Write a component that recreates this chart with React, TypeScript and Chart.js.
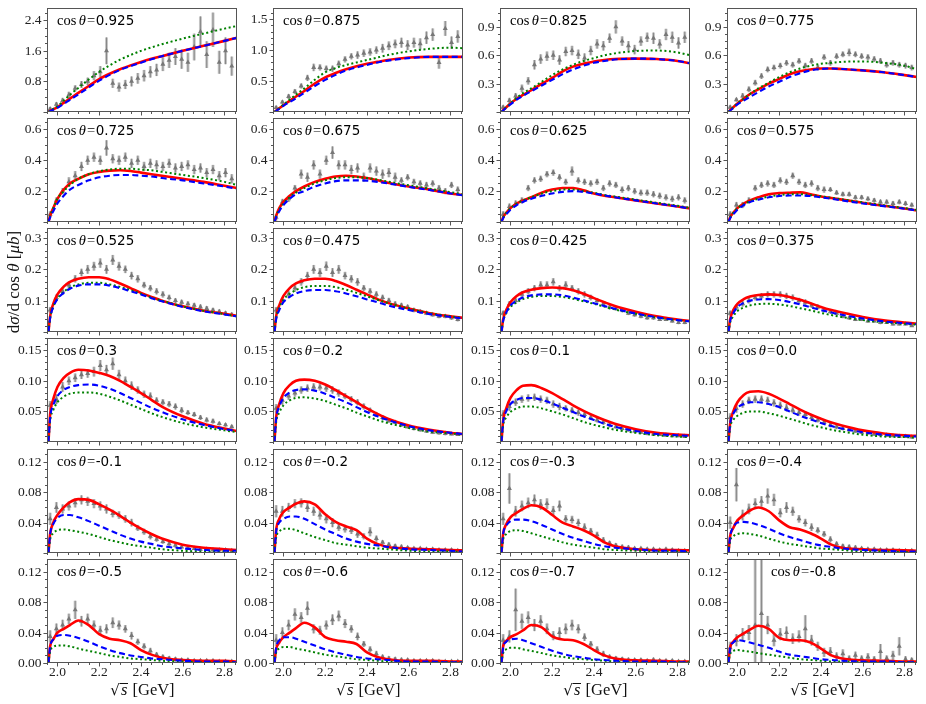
import React, { useEffect, useRef } from "react";
import { Chart, registerables } from "chart.js";

Chart.register(...registerables);

// ---------------- data ----------------
const X_MIN = 1.95;
const X_MAX = 2.86;
const X_TICKS = [2.0, 2.2, 2.4, 2.6, 2.8];
const X_TICK_LABELS = ["2.0", "2.2", "2.4", "2.6", "2.8"];

const X_DATA = [1.965, 1.995, 2.025, 2.055, 2.085, 2.115, 2.145, 2.175, 2.205, 2.235, 2.265, 2.295, 2.325, 2.355, 2.385, 2.415, 2.445, 2.475, 2.505, 2.535, 2.565, 2.595, 2.625, 2.655, 2.685, 2.715, 2.745, 2.775, 2.805, 2.835];
const X_MODEL = [1.957, 1.965, 1.98, 2.0, 2.03, 2.06, 2.1, 2.15, 2.2, 2.25, 2.3, 2.35, 2.4, 2.45, 2.5, 2.6, 2.7, 2.8, 2.86];

const COS_LABELS = ["0.925", "0.875", "0.825", "0.775", "0.725", "0.675", "0.625", "0.575", "0.525", "0.475", "0.425", "0.375", "0.3", "0.2", "0.1", "0.0", "-0.1", "-0.2", "-0.3", "-0.4", "-0.5", "-0.6", "-0.7", "-0.8"];

const Y_MAX = [2.72, 1.68, 1.1, 1.1, 0.674, 0.674, 0.674, 0.674, 0.332, 0.332, 0.332, 0.332, 0.17, 0.17, 0.17, 0.17, 0.137, 0.137, 0.137, 0.137, 0.137, 0.137, 0.137, 0.137];

const YT_A = [0.8, 1.6, 2.4];
const YL_A = ["0.8", "1.6", "2.4"];
const YT_B = [0.5, 1.0, 1.5];
const YL_B = ["0.5", "1.0", "1.5"];
const YT_C = [0.3, 0.6, 0.9];
const YL_C = ["0.3", "0.6", "0.9"];
const YT_D = [0.2, 0.4, 0.6];
const YL_D = ["0.2", "0.4", "0.6"];
const YT_E = [0.1, 0.2, 0.3];
const YL_E = ["0.1", "0.2", "0.3"];
const YT_F = [0.05, 0.1, 0.15];
const YL_F = ["0.05", "0.10", "0.15"];
const YT_G = [0.04, 0.08, 0.12];
const YL_G = ["0.04", "0.08", "0.12"];
const YT_H = [0, 0.04, 0.08, 0.12];
const YL_H = ["0.00", "0.04", "0.08", "0.12"];
const Y_MINOR = [0.2, 0.1, 0.075, 0.075, 0.05, 0.05, 0.05, 0.05, 0.02, 0.02, 0.02, 0.02, 0.01, 0.01, 0.01, 0.01, 0.01, 0.01, 0.01, 0.01, 0.01, 0.01, 0.01, 0.01];

// cos = 0.925
const D_0925 = [0.08, 0.2, 0.3, 0.45, 0.62, 0.72, 0.8, 0.95, 1.05, 1.6, 0.75, 0.65, 0.72, 0.8, 0.88, 0.95, 1.05, 1.1, 1.25, 1.35, 1.45, 1.38, 1.3, 1.7, 2.1, 1.5, 2.15, 1.3, 1.6, 1.2];
const E_0925 = [0.05, 0.06, 0.07, 0.08, 0.08, 0.09, 0.1, 0.12, 0.15, 0.35, 0.12, 0.12, 0.12, 0.13, 0.14, 0.15, 0.15, 0.16, 0.18, 0.2, 0.22, 0.25, 0.25, 0.35, 0.4, 0.35, 0.45, 0.3, 0.35, 0.25];
const R_0925 = [0, 0.03, 0.07, 0.13, 0.24, 0.35, 0.5, 0.68, 0.86, 1.0, 1.12, 1.22, 1.31, 1.39, 1.46, 1.6, 1.73, 1.86, 1.94];
const B_0925 = [0, 0.02, 0.06, 0.11, 0.21, 0.32, 0.46, 0.64, 0.82, 0.97, 1.1, 1.2, 1.29, 1.38, 1.46, 1.6, 1.73, 1.86, 1.94];
const G_0925 = [0, 0.03, 0.08, 0.15, 0.3, 0.45, 0.63, 0.85, 1.05, 1.22, 1.37, 1.49, 1.6, 1.69, 1.77, 1.92, 2.05, 2.18, 2.25];

// cos = 0.875
const D_0875 = [0.07, 0.16, 0.25, 0.33, 0.42, 0.55, 0.72, 0.72, 0.7, 0.7, 0.78, 0.85, 0.9, 0.92, 0.95, 0.97, 1.0, 1.03, 1.07, 1.1, 1.12, 1.08, 1.12, 1.1, 1.2, 1.25, 0.8, 1.35, 1.12, 1.22];
const E_0875 = [0.03, 0.03, 0.04, 0.04, 0.04, 0.05, 0.06, 0.05, 0.05, 0.05, 0.05, 0.05, 0.05, 0.06, 0.06, 0.06, 0.06, 0.07, 0.07, 0.07, 0.08, 0.08, 0.08, 0.09, 0.1, 0.1, 0.1, 0.12, 0.1, 0.1];
const R_0875 = [0, 0.02, 0.06, 0.11, 0.18, 0.25, 0.34, 0.46, 0.56, 0.63, 0.69, 0.74, 0.78, 0.81, 0.84, 0.88, 0.89, 0.89, 0.89];
const B_0875 = [0, 0.015, 0.05, 0.1, 0.16, 0.22, 0.31, 0.42, 0.52, 0.6, 0.67, 0.72, 0.76, 0.8, 0.83, 0.87, 0.89, 0.89, 0.89];
const G_0875 = [0, 0.02, 0.06, 0.12, 0.2, 0.28, 0.38, 0.52, 0.64, 0.71, 0.76, 0.8, 0.84, 0.88, 0.92, 0.98, 1.02, 1.04, 1.03];

// cos = 0.825
const D_0825 = [0.05, 0.12, 0.17, 0.25, 0.33, 0.5, 0.56, 0.59, 0.6, 0.55, 0.64, 0.65, 0.61, 0.57, 0.65, 0.72, 0.7, 0.78, 0.9, 0.75, 0.7, 0.66, 0.75, 0.79, 0.78, 0.72, 0.82, 0.79, 0.73, 0.79];
const E_0825 = [0.02, 0.03, 0.03, 0.04, 0.04, 0.05, 0.05, 0.05, 0.05, 0.05, 0.05, 0.05, 0.05, 0.05, 0.05, 0.05, 0.05, 0.05, 0.07, 0.05, 0.05, 0.05, 0.05, 0.05, 0.06, 0.05, 0.06, 0.06, 0.06, 0.06];
const R_0825 = [0, 0.02, 0.05, 0.09, 0.14, 0.18, 0.23, 0.3, 0.36, 0.43, 0.48, 0.51, 0.535, 0.55, 0.56, 0.565, 0.56, 0.54, 0.515];
const B_0825 = [0, 0.015, 0.045, 0.08, 0.13, 0.17, 0.22, 0.28, 0.34, 0.4, 0.45, 0.49, 0.52, 0.54, 0.555, 0.565, 0.56, 0.54, 0.515];
const G_0825 = [0, 0.02, 0.05, 0.09, 0.15, 0.2, 0.25, 0.32, 0.39, 0.45, 0.5, 0.54, 0.57, 0.6, 0.62, 0.645, 0.65, 0.63, 0.6];

// cos = 0.775
const D_0775 = [0.05, 0.13, 0.17, 0.24, 0.31, 0.38, 0.45, 0.47, 0.49, 0.52, 0.5, 0.54, 0.49, 0.54, 0.47, 0.58, 0.52, 0.59, 0.61, 0.63, 0.61, 0.59, 0.58, 0.56, 0.54, 0.5, 0.52, 0.5, 0.49, 0.47];
const E_0775 = [0.02, 0.02, 0.03, 0.03, 0.03, 0.03, 0.03, 0.03, 0.03, 0.03, 0.03, 0.03, 0.03, 0.03, 0.03, 0.03, 0.03, 0.03, 0.03, 0.04, 0.03, 0.03, 0.03, 0.03, 0.03, 0.03, 0.03, 0.03, 0.03, 0.03];
const R_0775 = [0, 0.02, 0.05, 0.09, 0.14, 0.19, 0.24, 0.3, 0.35, 0.4, 0.43, 0.45, 0.46, 0.46, 0.455, 0.44, 0.42, 0.39, 0.37];
const B_0775 = [0, 0.015, 0.04, 0.08, 0.12, 0.16, 0.21, 0.27, 0.32, 0.37, 0.41, 0.44, 0.455, 0.46, 0.455, 0.44, 0.42, 0.39, 0.37];
const G_0775 = [0, 0.02, 0.05, 0.09, 0.14, 0.19, 0.25, 0.31, 0.37, 0.42, 0.46, 0.49, 0.51, 0.52, 0.53, 0.535, 0.52, 0.49, 0.45];

// cos = 0.725
const D_0725 = [0.05, 0.14, 0.2, 0.26, 0.3, 0.36, 0.4, 0.42, 0.4, 0.48, 0.41, 0.4, 0.42, 0.38, 0.4, 0.36, 0.38, 0.37, 0.36, 0.38, 0.35, 0.36, 0.37, 0.34, 0.35, 0.32, 0.34, 0.3, 0.32, 0.28];
const E_0725 = [0.02, 0.02, 0.02, 0.03, 0.03, 0.03, 0.03, 0.03, 0.03, 0.05, 0.03, 0.03, 0.03, 0.03, 0.03, 0.03, 0.03, 0.03, 0.03, 0.03, 0.03, 0.03, 0.03, 0.03, 0.03, 0.03, 0.03, 0.03, 0.03, 0.03];
const R_0725 = [0, 0.04, 0.09, 0.15, 0.21, 0.25, 0.28, 0.31, 0.325, 0.333, 0.335, 0.33, 0.32, 0.31, 0.3, 0.28, 0.26, 0.235, 0.22];
const B_0725 = [0, 0.03, 0.07, 0.12, 0.17, 0.21, 0.24, 0.27, 0.29, 0.3, 0.305, 0.305, 0.3, 0.295, 0.285, 0.27, 0.25, 0.23, 0.215];
const G_0725 = [0, 0.04, 0.09, 0.15, 0.2, 0.24, 0.28, 0.31, 0.33, 0.34, 0.345, 0.345, 0.34, 0.335, 0.325, 0.305, 0.285, 0.26, 0.24];

// cos = 0.675
const D_0675 = [0.03, 0.13, 0.15, 0.22, 0.31, 0.29, 0.37, 0.31, 0.4, 0.45, 0.37, 0.37, 0.34, 0.35, 0.29, 0.35, 0.33, 0.31, 0.32, 0.29, 0.27, 0.29, 0.26, 0.25, 0.24, 0.25, 0.22, 0.2, 0.24, 0.21];
const E_0675 = [0.02, 0.02, 0.02, 0.02, 0.03, 0.03, 0.03, 0.03, 0.03, 0.04, 0.03, 0.03, 0.03, 0.03, 0.03, 0.03, 0.03, 0.03, 0.03, 0.03, 0.02, 0.02, 0.02, 0.02, 0.02, 0.02, 0.02, 0.02, 0.02, 0.02];
const R_0675 = [0, 0.04, 0.09, 0.13, 0.17, 0.2, 0.23, 0.26, 0.28, 0.295, 0.3, 0.295, 0.285, 0.27, 0.255, 0.23, 0.21, 0.185, 0.175];
const B_0675 = [0, 0.03, 0.07, 0.11, 0.15, 0.18, 0.2, 0.23, 0.25, 0.265, 0.27, 0.27, 0.268, 0.26, 0.25, 0.228, 0.207, 0.185, 0.173];
const G_0675 = [0, 0.04, 0.08, 0.12, 0.16, 0.19, 0.22, 0.25, 0.27, 0.285, 0.29, 0.29, 0.285, 0.275, 0.262, 0.238, 0.216, 0.193, 0.18];

// cos = 0.625
const D_0625 = [0.05, 0.1, 0.12, 0.14, 0.22, 0.27, 0.28, 0.31, 0.32, 0.29, 0.26, 0.33, 0.27, 0.26, 0.25, 0.26, 0.22, 0.25, 0.24, 0.21, 0.22, 0.2, 0.19, 0.19, 0.18, 0.17, 0.16, 0.15, 0.16, 0.14];
const E_0625 = [0.02, 0.02, 0.02, 0.02, 0.02, 0.02, 0.02, 0.02, 0.02, 0.02, 0.02, 0.03, 0.02, 0.02, 0.02, 0.02, 0.02, 0.02, 0.02, 0.02, 0.02, 0.02, 0.02, 0.02, 0.02, 0.02, 0.02, 0.02, 0.02, 0.02];
const R_0625 = [0, 0.03, 0.06, 0.09, 0.12, 0.14, 0.16, 0.19, 0.21, 0.22, 0.22, 0.205, 0.185, 0.17, 0.16, 0.14, 0.12, 0.1, 0.088];
const B_0625 = [0, 0.025, 0.05, 0.08, 0.11, 0.13, 0.15, 0.17, 0.185, 0.195, 0.2, 0.195, 0.185, 0.172, 0.16, 0.14, 0.12, 0.1, 0.088];
const G_0625 = [0, 0.03, 0.06, 0.09, 0.12, 0.14, 0.16, 0.185, 0.2, 0.21, 0.21, 0.2, 0.19, 0.175, 0.165, 0.145, 0.125, 0.105, 0.092];

// cos = 0.575
const D_0575 = [0.05, 0.11, 0.11, 0.14, 0.22, 0.24, 0.25, 0.24, 0.27, 0.26, 0.3, 0.26, 0.24, 0.25, 0.22, 0.21, 0.21, 0.19, 0.18, 0.18, 0.16, 0.16, 0.15, 0.14, 0.13, 0.13, 0.12, 0.13, 0.12, 0.11];
const E_0575 = [0.02, 0.02, 0.02, 0.02, 0.02, 0.02, 0.02, 0.02, 0.02, 0.02, 0.02, 0.02, 0.02, 0.02, 0.02, 0.02, 0.015, 0.015, 0.015, 0.015, 0.015, 0.015, 0.015, 0.015, 0.015, 0.015, 0.015, 0.015, 0.015, 0.015];
const R_0575 = [0, 0.03, 0.06, 0.09, 0.12, 0.14, 0.16, 0.18, 0.187, 0.19, 0.192, 0.18, 0.165, 0.155, 0.145, 0.125, 0.105, 0.088, 0.075];
const B_0575 = [0, 0.025, 0.05, 0.08, 0.11, 0.13, 0.145, 0.16, 0.168, 0.172, 0.172, 0.168, 0.16, 0.15, 0.14, 0.12, 0.103, 0.086, 0.075];
const G_0575 = [0, 0.03, 0.06, 0.09, 0.115, 0.135, 0.15, 0.165, 0.175, 0.18, 0.18, 0.175, 0.167, 0.157, 0.147, 0.127, 0.108, 0.09, 0.078];

// cos = 0.525
const D_0525 = [0.07, 0.11, 0.13, 0.15, 0.17, 0.19, 0.2, 0.21, 0.22, 0.2, 0.23, 0.21, 0.2, 0.18, 0.17, 0.15, 0.14, 0.13, 0.12, 0.11, 0.1, 0.095, 0.09, 0.085, 0.08, 0.075, 0.07, 0.065, 0.06, 0.055];
const E_0525 = [0.01, 0.01, 0.012, 0.012, 0.012, 0.012, 0.014, 0.014, 0.015, 0.014, 0.016, 0.014, 0.012, 0.012, 0.012, 0.01, 0.01, 0.01, 0.01, 0.009, 0.008, 0.008, 0.008, 0.008, 0.008, 0.008, 0.007, 0.007, 0.007, 0.007];
const R_0525 = [0, 0.05, 0.09, 0.12, 0.145, 0.16, 0.17, 0.175, 0.175, 0.168, 0.155, 0.14, 0.125, 0.112, 0.1, 0.082, 0.068, 0.058, 0.052];
const B_0525 = [0, 0.045, 0.08, 0.105, 0.125, 0.138, 0.148, 0.152, 0.152, 0.148, 0.14, 0.13, 0.12, 0.108, 0.098, 0.08, 0.066, 0.056, 0.05];
const G_0525 = [0, 0.045, 0.08, 0.107, 0.128, 0.142, 0.152, 0.157, 0.157, 0.152, 0.144, 0.134, 0.122, 0.11, 0.1, 0.082, 0.068, 0.057, 0.05];

// cos = 0.475
const D_0475 = [0.07, 0.1, 0.12, 0.14, 0.16, 0.18, 0.2, 0.19, 0.21, 0.19, 0.2, 0.18, 0.17, 0.16, 0.14, 0.13, 0.12, 0.11, 0.1, 0.09, 0.085, 0.08, 0.07, 0.065, 0.06, 0.055, 0.05, 0.05, 0.045, 0.04];
const E_0475 = [0.01, 0.01, 0.012, 0.012, 0.012, 0.012, 0.014, 0.014, 0.015, 0.014, 0.014, 0.012, 0.012, 0.012, 0.01, 0.01, 0.01, 0.009, 0.009, 0.008, 0.008, 0.007, 0.007, 0.007, 0.006, 0.006, 0.006, 0.006, 0.006, 0.006];
const R_0475 = [0, 0.05, 0.085, 0.115, 0.14, 0.155, 0.165, 0.17, 0.17, 0.163, 0.15, 0.135, 0.12, 0.105, 0.093, 0.075, 0.06, 0.05, 0.045];
const B_0475 = [0, 0.04, 0.07, 0.095, 0.112, 0.123, 0.131, 0.134, 0.134, 0.13, 0.123, 0.114, 0.104, 0.095, 0.085, 0.07, 0.057, 0.048, 0.043];
const G_0475 = [0, 0.045, 0.078, 0.103, 0.122, 0.134, 0.143, 0.147, 0.147, 0.143, 0.135, 0.125, 0.114, 0.103, 0.092, 0.075, 0.06, 0.05, 0.045];

// cos = 0.425
const D_0425 = [0.06, 0.09, 0.1, 0.12, 0.13, 0.14, 0.15, 0.15, 0.16, 0.14, 0.15, 0.14, 0.13, 0.12, 0.11, 0.1, 0.09, 0.08, 0.075, 0.07, 0.06, 0.055, 0.05, 0.045, 0.045, 0.04, 0.04, 0.035, 0.03, 0.03];
const E_0425 = [0.008, 0.009, 0.01, 0.01, 0.01, 0.01, 0.012, 0.012, 0.012, 0.01, 0.012, 0.01, 0.01, 0.01, 0.009, 0.008, 0.008, 0.008, 0.007, 0.007, 0.006, 0.006, 0.006, 0.006, 0.006, 0.005, 0.005, 0.005, 0.005, 0.005];
const R_0425 = [0, 0.04, 0.07, 0.095, 0.115, 0.127, 0.135, 0.14, 0.142, 0.14, 0.133, 0.122, 0.108, 0.095, 0.083, 0.065, 0.05, 0.04, 0.035];
const B_0425 = [0, 0.035, 0.062, 0.085, 0.1, 0.11, 0.117, 0.12, 0.12, 0.117, 0.11, 0.101, 0.092, 0.083, 0.074, 0.059, 0.047, 0.038, 0.034];
const G_0425 = [0, 0.035, 0.06, 0.08, 0.095, 0.105, 0.112, 0.115, 0.115, 0.112, 0.106, 0.098, 0.09, 0.081, 0.072, 0.058, 0.046, 0.038, 0.034];

// cos = 0.375
const D_0375 = [0.06, 0.08, 0.09, 0.1, 0.11, 0.115, 0.12, 0.12, 0.12, 0.115, 0.11, 0.1, 0.095, 0.085, 0.08, 0.07, 0.065, 0.06, 0.05, 0.045, 0.04, 0.04, 0.035, 0.035, 0.03, 0.03, 0.025, 0.025, 0.025, 0.02];
const E_0375 = [0.008, 0.008, 0.009, 0.009, 0.009, 0.009, 0.01, 0.01, 0.01, 0.01, 0.01, 0.009, 0.009, 0.008, 0.008, 0.007, 0.007, 0.006, 0.006, 0.006, 0.005, 0.005, 0.005, 0.005, 0.005, 0.004, 0.004, 0.004, 0.004, 0.004];
const R_0375 = [0, 0.04, 0.07, 0.09, 0.105, 0.113, 0.118, 0.12, 0.118, 0.112, 0.103, 0.092, 0.08, 0.07, 0.062, 0.048, 0.037, 0.03, 0.027];
const B_0375 = [0, 0.035, 0.06, 0.08, 0.093, 0.1, 0.104, 0.105, 0.102, 0.096, 0.088, 0.079, 0.07, 0.062, 0.055, 0.043, 0.034, 0.028, 0.025];
const G_0375 = [0, 0.03, 0.05, 0.067, 0.078, 0.085, 0.089, 0.09, 0.088, 0.083, 0.076, 0.069, 0.061, 0.054, 0.048, 0.038, 0.031, 0.026, 0.023];

// cos = 0.3
const D_03 = [0.06, 0.07, 0.09, 0.1, 0.105, 0.11, 0.112, 0.115, 0.125, 0.118, 0.128, 0.11, 0.1, 0.092, 0.085, 0.078, 0.075, 0.068, 0.065, 0.062, 0.058, 0.052, 0.048, 0.045, 0.04, 0.036, 0.034, 0.03, 0.028, 0.025];
const E_03 = [0.007, 0.008, 0.008, 0.007, 0.007, 0.007, 0.007, 0.008, 0.009, 0.008, 0.01, 0.008, 0.007, 0.007, 0.006, 0.006, 0.006, 0.005, 0.005, 0.005, 0.005, 0.005, 0.004, 0.004, 0.004, 0.004, 0.004, 0.003, 0.003, 0.003];
const R_03 = [0, 0.045, 0.07, 0.09, 0.105, 0.113, 0.118, 0.117, 0.113, 0.108, 0.1, 0.09, 0.08, 0.069, 0.058, 0.042, 0.03, 0.022, 0.018];
const B_03 = [0, 0.04, 0.06, 0.075, 0.085, 0.09, 0.093, 0.094, 0.092, 0.087, 0.08, 0.072, 0.064, 0.056, 0.049, 0.037, 0.028, 0.021, 0.018];
const G_03 = [0, 0.035, 0.052, 0.065, 0.074, 0.079, 0.081, 0.081, 0.079, 0.074, 0.068, 0.061, 0.054, 0.047, 0.041, 0.031, 0.024, 0.019, 0.016];

// cos = 0.2
const D_02 = [0.055, 0.068, 0.075, 0.08, 0.085, 0.088, 0.09, 0.09, 0.088, 0.085, 0.08, 0.075, 0.07, 0.065, 0.058, 0.052, 0.045, 0.04, 0.035, 0.032, 0.028, 0.025, 0.022, 0.02, 0.018, 0.016, 0.015, 0.014, 0.013, 0.012];
const E_02 = [0.007, 0.007, 0.006, 0.006, 0.006, 0.006, 0.006, 0.006, 0.006, 0.006, 0.006, 0.005, 0.005, 0.005, 0.005, 0.004, 0.004, 0.004, 0.004, 0.003, 0.003, 0.003, 0.003, 0.003, 0.003, 0.003, 0.003, 0.003, 0.002, 0.002];
const R_02 = [0, 0.04, 0.062, 0.08, 0.093, 0.1, 0.102, 0.1, 0.094, 0.085, 0.075, 0.065, 0.055, 0.046, 0.038, 0.027, 0.02, 0.015, 0.013];
const B_02 = [0, 0.038, 0.058, 0.072, 0.081, 0.085, 0.086, 0.084, 0.079, 0.072, 0.065, 0.057, 0.049, 0.042, 0.036, 0.026, 0.019, 0.015, 0.013];
const G_02 = [0, 0.032, 0.048, 0.06, 0.068, 0.072, 0.073, 0.071, 0.067, 0.061, 0.055, 0.048, 0.042, 0.036, 0.031, 0.023, 0.017, 0.014, 0.012];

// cos = 0.1
const D_01 = [0.045, 0.058, 0.065, 0.07, 0.072, 0.073, 0.07, 0.068, 0.062, 0.058, 0.055, 0.052, 0.048, 0.045, 0.04, 0.036, 0.032, 0.028, 0.025, 0.022, 0.02, 0.018, 0.016, 0.014, 0.013, 0.012, 0.011, 0.01, 0.01, 0.009];
const E_01 = [0.007, 0.007, 0.006, 0.006, 0.006, 0.006, 0.006, 0.006, 0.006, 0.006, 0.005, 0.005, 0.005, 0.005, 0.004, 0.004, 0.004, 0.004, 0.003, 0.003, 0.003, 0.003, 0.003, 0.003, 0.003, 0.002, 0.002, 0.002, 0.002, 0.002];
const R_01 = [0, 0.035, 0.055, 0.072, 0.085, 0.092, 0.093, 0.088, 0.08, 0.07, 0.06, 0.051, 0.043, 0.036, 0.03, 0.021, 0.015, 0.012, 0.011];
const B_01 = [0, 0.033, 0.05, 0.062, 0.069, 0.072, 0.072, 0.069, 0.063, 0.056, 0.049, 0.042, 0.036, 0.03, 0.025, 0.018, 0.013, 0.011, 0.01];
const G_01 = [0, 0.028, 0.04, 0.049, 0.055, 0.058, 0.058, 0.055, 0.05, 0.045, 0.039, 0.033, 0.028, 0.024, 0.02, 0.015, 0.011, 0.009, 0.008];

// cos = 0.0
const D_00 = [0.04, 0.055, 0.062, 0.068, 0.07, 0.07, 0.068, 0.064, 0.06, 0.056, 0.052, 0.048, 0.045, 0.04, 0.036, 0.032, 0.028, 0.025, 0.022, 0.02, 0.018, 0.016, 0.015, 0.013, 0.012, 0.011, 0.01, 0.009, 0.009, 0.008];
const E_00 = [0.007, 0.007, 0.006, 0.006, 0.006, 0.006, 0.006, 0.006, 0.006, 0.006, 0.005, 0.005, 0.005, 0.005, 0.004, 0.004, 0.004, 0.004, 0.003, 0.003, 0.003, 0.003, 0.003, 0.003, 0.003, 0.002, 0.002, 0.002, 0.002, 0.002];
const R_00 = [0, 0.03, 0.05, 0.065, 0.077, 0.082, 0.083, 0.079, 0.071, 0.062, 0.053, 0.045, 0.038, 0.032, 0.027, 0.019, 0.014, 0.011, 0.01];
const B_00 = [0, 0.03, 0.046, 0.056, 0.062, 0.065, 0.065, 0.062, 0.057, 0.05, 0.043, 0.037, 0.031, 0.026, 0.022, 0.016, 0.012, 0.01, 0.009];
const G_00 = [0, 0.024, 0.036, 0.043, 0.048, 0.05, 0.05, 0.047, 0.043, 0.038, 0.033, 0.028, 0.024, 0.02, 0.017, 0.012, 0.009, 0.008, 0.007];

// cos = -0.1
const D_M01 = [0.045, 0.06, 0.058, 0.062, 0.066, 0.07, 0.068, 0.065, 0.062, 0.058, 0.052, 0.05, 0.045, 0.04, 0.033, 0.028, 0.022, 0.018, 0.015, 0.012, 0.01, 0.008, 0.007, 0.006, 0.005, 0.005, 0.004, 0.004, 0.004, 0.003];
const E_M01 = [0.008, 0.007, 0.006, 0.006, 0.006, 0.006, 0.006, 0.006, 0.006, 0.006, 0.005, 0.005, 0.005, 0.005, 0.004, 0.004, 0.004, 0.003, 0.003, 0.003, 0.003, 0.002, 0.002, 0.002, 0.002, 0.002, 0.002, 0.002, 0.002, 0.002];
const R_M01 = [0, 0.025, 0.04, 0.05, 0.06, 0.067, 0.071, 0.07, 0.064, 0.057, 0.049, 0.04, 0.032, 0.025, 0.019, 0.011, 0.007, 0.005, 0.004];
const B_M01 = [0, 0.025, 0.038, 0.046, 0.05, 0.05, 0.047, 0.042, 0.036, 0.03, 0.024, 0.019, 0.015, 0.012, 0.009, 0.006, 0.004, 0.003, 0.003];
const G_M01 = [0, 0.018, 0.026, 0.03, 0.031, 0.03, 0.028, 0.025, 0.021, 0.017, 0.014, 0.011, 0.009, 0.007, 0.005, 0.003, 0.002, 0.002, 0.001];

// cos = -0.2
const D_M02 = [0.055, 0.055, 0.06, 0.065, 0.066, 0.06, 0.055, 0.05, 0.045, 0.04, 0.034, 0.032, 0.03, 0.025, 0.022, 0.028, 0.019, 0.014, 0.011, 0.009, 0.008, 0.007, 0.006, 0.006, 0.005, 0.005, 0.004, 0.004, 0.004, 0.003];
const E_M02 = [0.008, 0.007, 0.006, 0.006, 0.006, 0.006, 0.006, 0.006, 0.006, 0.006, 0.005, 0.005, 0.005, 0.005, 0.004, 0.006, 0.004, 0.003, 0.003, 0.003, 0.003, 0.002, 0.002, 0.002, 0.002, 0.002, 0.002, 0.002, 0.002, 0.002];
const R_M02 = [0, 0.03, 0.045, 0.054, 0.06, 0.065, 0.068, 0.064, 0.051, 0.041, 0.035, 0.03, 0.019, 0.012, 0.008, 0.006, 0.005, 0.004, 0.0035];
const B_M02 = [0, 0.028, 0.04, 0.045, 0.048, 0.048, 0.045, 0.038, 0.031, 0.025, 0.019, 0.015, 0.012, 0.01, 0.008, 0.005, 0.004, 0.003, 0.002];
const G_M02 = [0, 0.02, 0.028, 0.032, 0.032, 0.03, 0.026, 0.021, 0.017, 0.013, 0.011, 0.009, 0.007, 0.006, 0.005, 0.003, 0.002, 0.002, 0.001];

// cos = -0.3
const D_M03 = [0.045, 0.085, 0.055, 0.062, 0.066, 0.07, 0.064, 0.065, 0.056, 0.062, 0.045, 0.044, 0.04, 0.034, 0.029, 0.024, 0.017, 0.013, 0.01, 0.008, 0.007, 0.006, 0.006, 0.005, 0.005, 0.004, 0.005, 0.004, 0.003, 0.003];
const E_M03 = [0.008, 0.02, 0.007, 0.007, 0.007, 0.007, 0.007, 0.007, 0.006, 0.007, 0.005, 0.005, 0.005, 0.005, 0.004, 0.004, 0.004, 0.003, 0.003, 0.003, 0.003, 0.002, 0.002, 0.002, 0.002, 0.002, 0.002, 0.002, 0.002, 0.002];
const R_M03 = [0, 0.025, 0.038, 0.047, 0.053, 0.058, 0.063, 0.06, 0.05, 0.04, 0.035, 0.03, 0.023, 0.014, 0.009, 0.005, 0.004, 0.004, 0.0035];
const B_M03 = [0, 0.025, 0.036, 0.042, 0.044, 0.044, 0.042, 0.037, 0.031, 0.025, 0.02, 0.016, 0.012, 0.009, 0.007, 0.005, 0.003, 0.003, 0.002];
const G_M03 = [0, 0.018, 0.025, 0.029, 0.03, 0.029, 0.026, 0.022, 0.018, 0.014, 0.011, 0.009, 0.007, 0.005, 0.004, 0.003, 0.002, 0.002, 0.001];

// cos = -0.4
const D_M04 = [0.04, 0.09, 0.05, 0.058, 0.065, 0.068, 0.075, 0.07, 0.053, 0.06, 0.055, 0.045, 0.04, 0.034, 0.03, 0.025, 0.018, 0.012, 0.009, 0.008, 0.007, 0.006, 0.005, 0.005, 0.004, 0.004, 0.004, 0.003, 0.003, 0.003];
const E_M04 = [0.008, 0.022, 0.007, 0.007, 0.007, 0.007, 0.01, 0.008, 0.006, 0.007, 0.006, 0.005, 0.005, 0.005, 0.004, 0.004, 0.004, 0.003, 0.003, 0.003, 0.003, 0.002, 0.002, 0.002, 0.002, 0.002, 0.002, 0.002, 0.002, 0.002];
const R_M04 = [0, 0.022, 0.033, 0.043, 0.05, 0.056, 0.06, 0.055, 0.043, 0.034, 0.031, 0.026, 0.019, 0.011, 0.007, 0.005, 0.004, 0.0035, 0.003];
const B_M04 = [0, 0.022, 0.034, 0.04, 0.041, 0.04, 0.037, 0.032, 0.026, 0.021, 0.017, 0.013, 0.01, 0.008, 0.006, 0.004, 0.003, 0.002, 0.002];
const G_M04 = [0, 0.016, 0.022, 0.025, 0.026, 0.025, 0.023, 0.019, 0.015, 0.012, 0.01, 0.008, 0.006, 0.005, 0.004, 0.002, 0.002, 0.001, 0.001];

// cos = -0.5
const D_M05 = [0.035, 0.045, 0.05, 0.058, 0.07, 0.055, 0.058, 0.05, 0.043, 0.045, 0.053, 0.05, 0.045, 0.036, 0.028, 0.022, 0.016, 0.011, 0.008, 0.006, 0.005, 0.004, 0.004, 0.003, 0.003, 0.003, 0.003, 0.002, 0.002, 0.002];
const E_M05 = [0.008, 0.007, 0.007, 0.007, 0.012, 0.007, 0.007, 0.006, 0.006, 0.006, 0.007, 0.006, 0.005, 0.005, 0.004, 0.004, 0.004, 0.003, 0.003, 0.003, 0.003, 0.002, 0.002, 0.002, 0.002, 0.002, 0.002, 0.002, 0.002, 0.002];
const R_M05 = [0, 0.022, 0.031, 0.04, 0.045, 0.05, 0.056, 0.05, 0.038, 0.032, 0.03, 0.026, 0.017, 0.011, 0.007, 0.004, 0.003, 0.003, 0.002];
const B_M05 = [0, 0.022, 0.031, 0.036, 0.037, 0.036, 0.033, 0.028, 0.022, 0.017, 0.013, 0.01, 0.008, 0.006, 0.005, 0.003, 0.002, 0.002, 0.001];
const G_M05 = [0, 0.015, 0.021, 0.023, 0.023, 0.022, 0.019, 0.016, 0.013, 0.01, 0.008, 0.006, 0.005, 0.004, 0.003, 0.002, 0.001, 0.001, 0.001];

// cos = -0.6
const D_M06 = [0.03, 0.04, 0.05, 0.064, 0.06, 0.072, 0.045, 0.043, 0.05, 0.057, 0.062, 0.052, 0.045, 0.035, 0.025, 0.018, 0.012, 0.008, 0.006, 0.005, 0.004, 0.004, 0.003, 0.003, 0.003, 0.003, 0.002, 0.002, 0.002, 0.002];
const E_M06 = [0.008, 0.007, 0.007, 0.008, 0.007, 0.009, 0.006, 0.006, 0.006, 0.007, 0.007, 0.006, 0.005, 0.005, 0.004, 0.004, 0.004, 0.003, 0.003, 0.003, 0.003, 0.002, 0.002, 0.002, 0.002, 0.002, 0.002, 0.002, 0.002, 0.002];
const R_M06 = [0, 0.018, 0.027, 0.034, 0.04, 0.046, 0.053, 0.047, 0.034, 0.03, 0.028, 0.025, 0.014, 0.008, 0.005, 0.003, 0.003, 0.002, 0.002];
const B_M06 = [0, 0.02, 0.03, 0.034, 0.034, 0.032, 0.028, 0.023, 0.018, 0.014, 0.011, 0.008, 0.006, 0.005, 0.004, 0.002, 0.002, 0.001, 0.001];
const G_M06 = [0, 0.014, 0.019, 0.021, 0.021, 0.019, 0.017, 0.014, 0.011, 0.009, 0.007, 0.005, 0.004, 0.003, 0.002, 0.001, 0.001, 0.001, 0.001];

// cos = -0.7
const D_M07 = [0.03, 0.035, 0.07, 0.055, 0.06, 0.05, 0.055, 0.045, 0.036, 0.04, 0.045, 0.05, 0.045, 0.034, 0.025, 0.018, 0.012, 0.008, 0.006, 0.005, 0.004, 0.004, 0.004, 0.003, 0.004, 0.003, 0.003, 0.003, 0.002, 0.002];
const E_M07 = [0.008, 0.008, 0.028, 0.01, 0.008, 0.008, 0.008, 0.007, 0.006, 0.007, 0.007, 0.007, 0.006, 0.005, 0.004, 0.004, 0.004, 0.003, 0.003, 0.003, 0.003, 0.002, 0.002, 0.002, 0.003, 0.002, 0.002, 0.002, 0.002, 0.002];
const R_M07 = [0, 0.022, 0.029, 0.034, 0.038, 0.043, 0.05, 0.047, 0.035, 0.031, 0.03, 0.025, 0.017, 0.01, 0.006, 0.0035, 0.003, 0.002, 0.002];
const B_M07 = [0, 0.02, 0.028, 0.031, 0.032, 0.03, 0.026, 0.021, 0.016, 0.012, 0.009, 0.007, 0.005, 0.004, 0.003, 0.002, 0.002, 0.001, 0.001];
const G_M07 = [0, 0.013, 0.018, 0.02, 0.02, 0.018, 0.016, 0.013, 0.01, 0.008, 0.006, 0.005, 0.004, 0.003, 0.002, 0.001, 0.001, 0.001, 0.001];

// cos = -0.8
const D_M08 = [0.02, 0.03, 0.038, 0.04, 0.05, 0.065, 0.05, 0.03, 0.038, 0.04, 0.032, 0.035, 0.045, 0.03, 0.022, 0.014, 0.015, 0.009, 0.012, 0.006, 0.01, 0.006, 0.008, 0.005, 0.015, 0.006, 0.01, 0.022, 0.005, 0.004];
const E_M08 = [0.008, 0.008, 0.008, 0.01, 0.09, 0.09, 0.012, 0.008, 0.008, 0.008, 0.007, 0.008, 0.018, 0.007, 0.006, 0.006, 0.006, 0.005, 0.006, 0.004, 0.005, 0.004, 0.005, 0.004, 0.01, 0.004, 0.006, 0.012, 0.004, 0.003];
const R_M08 = [0, 0.02, 0.028, 0.034, 0.039, 0.044, 0.049, 0.045, 0.033, 0.03, 0.03, 0.027, 0.019, 0.01, 0.006, 0.0035, 0.003, 0.002, 0.002];
const B_M08 = [0, 0.02, 0.027, 0.03, 0.029, 0.027, 0.024, 0.02, 0.015, 0.011, 0.009, 0.007, 0.005, 0.004, 0.003, 0.002, 0.002, 0.001, 0.001];
const G_M08 = [0, 0.012, 0.016, 0.017, 0.016, 0.015, 0.013, 0.011, 0.009, 0.007, 0.005, 0.004, 0.003, 0.002, 0.002, 0.001, 0.001, 0.001, 0.001];

const PANEL_DATA = [D_0925, D_0875, D_0825, D_0775, D_0725, D_0675, D_0625, D_0575, D_0525, D_0475, D_0425, D_0375, D_03, D_02, D_01, D_00, D_M01, D_M02, D_M03, D_M04, D_M05, D_M06, D_M07, D_M08];
const PANEL_ERR = [E_0925, E_0875, E_0825, E_0775, E_0725, E_0675, E_0625, E_0575, E_0525, E_0475, E_0425, E_0375, E_03, E_02, E_01, E_00, E_M01, E_M02, E_M03, E_M04, E_M05, E_M06, E_M07, E_M08];
const PANEL_RED = [R_0925, R_0875, R_0825, R_0775, R_0725, R_0675, R_0625, R_0575, R_0525, R_0475, R_0425, R_0375, R_03, R_02, R_01, R_00, R_M01, R_M02, R_M03, R_M04, R_M05, R_M06, R_M07, R_M08];
const PANEL_BLUE = [B_0925, B_0875, B_0825, B_0775, B_0725, B_0675, B_0625, B_0575, B_0525, B_0475, B_0425, B_0375, B_03, B_02, B_01, B_00, B_M01, B_M02, B_M03, B_M04, B_M05, B_M06, B_M07, B_M08];
const PANEL_GREEN = [G_0925, G_0875, G_0825, G_0775, G_0725, G_0675, G_0625, G_0575, G_0525, G_0475, G_0425, G_0375, G_03, G_02, G_01, G_00, G_M01, G_M02, G_M03, G_M04, G_M05, G_M06, G_M07, G_M08];
const PANEL_YTICKS = [YT_A, YT_B, YT_C, YT_C, YT_D, YT_D, YT_D, YT_D, YT_E, YT_E, YT_E, YT_E, YT_F, YT_F, YT_F, YT_F, YT_G, YT_G, YT_G, YT_G, YT_H, YT_H, YT_H, YT_H];
const PANEL_YLABELS = [YL_A, YL_B, YL_C, YL_C, YL_D, YL_D, YL_D, YL_D, YL_E, YL_E, YL_E, YL_E, YL_F, YL_F, YL_F, YL_F, YL_G, YL_G, YL_G, YL_G, YL_H, YL_H, YL_H, YL_H];

// ---------------- layout & style ----------------
const COL_LEFT = [47, 273, 500, 727];
const ROW_TOP = [7, 117, 227, 337, 448, 558];
const PLOT_W = 191;
const PLOT_H = 105;
const PAD_L = 44;
const PAD_T = 3;
const PAD_R = 3;
const SERIF = '"Liberation Serif", "Times New Roman", serif';
const SANS = '"DejaVu Sans", sans-serif';
const FRAME = "#555555";

function pts(xs: number[], ys: number[]) {
  return xs.map((x, i) => ({ x, y: ys[i] }));
}

function makeDeco(idx: number, bottom: boolean) {
  return {
    id: "panelDeco" + idx,
    beforeDatasetsDraw(chart: any) {
      const { ctx, chartArea: a } = chart;
      const xs = chart.scales.x;
      const ys = chart.scales.y;
      const d = PANEL_DATA[idx];
      const e = PANEL_ERR[idx];
      ctx.save();
      ctx.beginPath();
      ctx.rect(a.left, a.top, a.right - a.left, a.bottom - a.top);
      ctx.clip();
      for (let i = 0; i < X_DATA.length; i++) {
        const px = xs.getPixelForValue(X_DATA[i]);
        const y1 = ys.getPixelForValue(d[i] - e[i]);
        const y2 = ys.getPixelForValue(d[i] + e[i]);
        ctx.strokeStyle = "#c6c6c6";
        ctx.lineWidth = 3;
        ctx.beginPath();
        ctx.moveTo(px, y1);
        ctx.lineTo(px, y2);
        ctx.stroke();
        ctx.strokeStyle = "#888888";
        ctx.lineWidth = 1;
        ctx.beginPath();
        ctx.moveTo(px, y1);
        ctx.lineTo(px, y2);
        ctx.stroke();
      }
      ctx.restore();
    },
    afterDraw(chart: any) {
      const { ctx, chartArea: a } = chart;
      const xs = chart.scales.x;
      const ys = chart.scales.y;
      ctx.save();
      ctx.strokeStyle = FRAME;
      ctx.lineWidth = 1;
      ctx.strokeRect(Math.round(a.left) + 0.5, Math.round(a.top) + 0.5, Math.round(a.right - a.left) - 1, Math.round(a.bottom - a.top) - 1);
      const yt = PANEL_YTICKS[idx];
      const yl = PANEL_YLABELS[idx];
      const ymax = Y_MAX[idx];
      const minor = Y_MINOR[idx];
      ctx.beginPath();
      for (let v = 0; v <= ymax + 1e-9; v += minor) {
        const py = Math.round(ys.getPixelForValue(v)) + 0.5;
        ctx.moveTo(a.left, py);
        ctx.lineTo(a.left - 2, py);
      }
      for (const v of [0, ...yt]) {
        const py = Math.round(ys.getPixelForValue(v)) + 0.5;
        ctx.moveTo(a.left, py);
        ctx.lineTo(a.left - 3.5, py);
      }
      for (let v = 1.95; v <= X_MAX + 1e-9; v += 0.05) {
        const px = Math.round(xs.getPixelForValue(v)) + 0.5;
        ctx.moveTo(px, a.bottom);
        ctx.lineTo(px, a.bottom + 2);
      }
      for (const v of X_TICKS) {
        const px = Math.round(xs.getPixelForValue(v)) + 0.5;
        ctx.moveTo(px, a.bottom);
        ctx.lineTo(px, a.bottom + 3.5);
      }
      ctx.stroke();
      ctx.fillStyle = "#222";
      ctx.font = "13.5px " + SERIF;
      ctx.textAlign = "right";
      ctx.textBaseline = "middle";
      yt.forEach((v, i) => {
        ctx.fillText(yl[i], a.left - 5.5, ys.getPixelForValue(v) + 0.5);
      });
      if (bottom) {
        ctx.textAlign = "center";
        ctx.textBaseline = "top";
        X_TICKS.forEach((v, i) => {
          ctx.fillText(X_TICK_LABELS[i], xs.getPixelForValue(v), a.bottom + 3);
        });
      }
      let tx = a.left + (idx === 23 ? 44 : 10);
      const ty = a.top + 17;
      ctx.textAlign = "left";
      ctx.textBaseline = "alphabetic";
      ctx.fillStyle = "#000";
      ctx.font = "14.5px " + SERIF;
      ctx.fillText("cos", tx, ty);
      tx += ctx.measureText("cos").width + 2.5;
      ctx.font = "italic 14.5px " + SERIF;
      ctx.fillText("\u03b8", tx, ty);
      tx += ctx.measureText("\u03b8").width + 1;
      ctx.font = "14.5px " + SERIF;
      ctx.fillText("=", tx, ty);
      tx += ctx.measureText("=").width + 0.5;
      ctx.font = "13.5px " + SANS;
      ctx.fillText(COS_LABELS[idx], tx, ty);
      ctx.restore();
    },
  };
}

function Panel({ idx }: { idx: number }) {
  const ref = useRef<HTMLCanvasElement>(null);
  const row = Math.floor(idx / 4);
  const col = idx % 4;
  const bottom = row === 5;
  const padB = bottom ? 22 : 5;
  const w = PAD_L + PLOT_W + PAD_R;
  const h = PAD_T + PLOT_H + padB;

  useEffect(() => {
    const chart = new Chart(ref.current as HTMLCanvasElement, {
      type: "line",
      data: {
        datasets: [
          {
            data: pts(X_DATA, PANEL_DATA[idx]),
            showLine: false,
            pointStyle: "triangle",
            pointRadius: 2.9,
            pointBackgroundColor: "#777777",
            pointBorderColor: "#777777",
            pointBorderWidth: 0,
            order: 5,
          },
          {
            data: pts(X_MODEL, PANEL_RED[idx]),
            borderColor: "#ff0000",
            borderWidth: 2.6,
            pointRadius: 0,
            cubicInterpolationMode: "monotone",
            fill: false,
            order: 3,
          },
          {
            data: pts(X_MODEL, PANEL_GREEN[idx]),
            borderColor: "#008000",
            borderWidth: 2,
            borderDash: [2, 2.6],
            pointRadius: 0,
            cubicInterpolationMode: "monotone",
            fill: false,
            order: 2,
          },
          {
            data: pts(X_MODEL, PANEL_BLUE[idx]),
            borderColor: "#0000ff",
            borderWidth: 2.1,
            borderDash: [6, 3.5],
            pointRadius: 0,
            cubicInterpolationMode: "monotone",
            fill: false,
            order: 1,
          },
        ],
      } as any,
      options: {
        responsive: false,
        animation: false,
        events: [],
        layout: { padding: { left: PAD_L, top: PAD_T, right: PAD_R, bottom: padB } },
        scales: {
          x: { type: "linear", display: false, min: X_MIN, max: X_MAX },
          y: { type: "linear", display: false, min: 0, max: Y_MAX[idx] },
        },
        plugins: { legend: { display: false }, tooltip: { enabled: false }, title: { display: false } },
      } as any,
      plugins: [makeDeco(idx, bottom)],
    });
    return () => chart.destroy();
  }, [idx]);

  return (
    <canvas
      ref={ref}
      width={w}
      height={h}
      style={{ position: "absolute", left: COL_LEFT[col] - PAD_L, top: ROW_TOP[row] - PAD_T, width: w, height: h }}
    />
  );
}

export default function App() {
  const idxs = COS_LABELS.map((_, i) => i);
  return (
    <div style={{ position: "absolute", left: 0, top: 0, width: 926, height: 704, background: "#fff", overflow: "hidden" }}>
      {idxs.map((i) => (
        <Panel key={i} idx={i} />
      ))}
      {COL_LEFT.map((l, c) => (
        <div
          key={"xt" + c}
          style={{
            position: "absolute",
            left: l + PLOT_W / 2 - 70,
            width: 140,
            top: 681,
            textAlign: "center",
            fontFamily: SERIF,
            fontSize: 16.5,
            lineHeight: "17px",
            color: "#111",
            whiteSpace: "nowrap",
          }}
        >
          <span style={{ fontFamily: '"DejaVu Serif", serif', fontSize: 15 }}>{"\u221a"}</span>
          <span
            style={{
              display: "inline-block",
              fontStyle: "italic",
              borderTop: "1.2px solid #111",
              lineHeight: "12px",
              paddingLeft: 1,
              paddingRight: 1,
            }}
          >
            s
          </span>
          <span> [GeV]</span>
        </div>
      ))}
      <div
        style={{
          position: "absolute",
          left: 14 - 110,
          top: 282 - 10,
          width: 220,
          height: 20,
          lineHeight: "20px",
          textAlign: "center",
          transform: "rotate(-90deg)",
          transformOrigin: "50% 50%",
          fontFamily: SERIF,
          fontSize: 17,
          color: "#111",
          whiteSpace: "nowrap",
        }}
      >
        d<i>σ</i>/d cos <i>θ</i> [<i>μb</i>]
      </div>
    </div>
  );
}
